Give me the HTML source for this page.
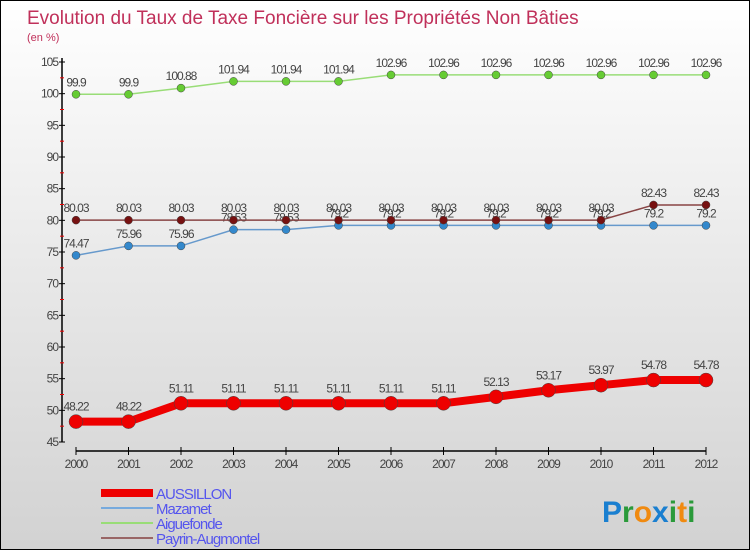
<!DOCTYPE html>
<html><head><meta charset="utf-8"><style>
body{margin:0}
#c{width:750px;height:550px;position:relative;box-sizing:border-box;border:1px solid #000;background:linear-gradient(#fff 0%,#e8e8e8 50%,#d2d2d2 100%);font-family:"Liberation Sans",sans-serif;overflow:hidden}
text{font-family:"Liberation Sans",sans-serif}
</style></head><body>
<div id="c">
<svg id="s" width="750" height="550">
<text x="26" y="23" font-size="19" fill="#c0305a">Evolution du Taux de Taxe Foncière sur les Propriétés Non Bâties</text>
<text x="26" y="40" font-size="11" fill="#c0305a">(en %)</text>
<g id="g"></g>
<text x="601" y="521" font-size="30" font-weight="bold"><tspan fill="#1a7fd0">P</tspan><tspan fill="#2a9a3a">r</tspan><tspan fill="#f08a10">o</tspan><tspan fill="#1a7fd0">x</tspan><tspan fill="#2a9a3a">i</tspan><tspan fill="#f08a10">t</tspan><tspan fill="#2a9a3a">i</tspan></text>
</svg></div>
<script>
const years=[2000,2001,2002,2003,2004,2005,2006,2007,2008,2009,2010,2011,2012];
const yTicks=[45,50,55,60,65,70,75,80,85,90,95,100,105];
const aussillon=[48.22,48.22,51.11,51.11,51.11,51.11,51.11,51.11,52.13,53.17,53.97,54.78,54.78];
const mazamet=[74.47,75.96,75.96,78.53,78.53,79.2,79.2,79.2,79.2,79.2,79.2,79.2,79.2];
const aiguefonde=[99.9,99.9,100.88,101.94,101.94,101.94,102.96,102.96,102.96,102.96,102.96,102.96,102.96];
const payrin=[80.03,80.03,80.03,80.03,80.03,80.03,80.03,80.03,80.03,80.03,80.03,82.43,82.43];
const seriesNames=["AUSSILLON","Mazamet","Aiguefonde","Payrin-Augmontel"];
const NS="http://www.w3.org/2000/svg",g=document.getElementById('g');
const xS=i=>75+i*52.5, yS=v=>441-(v-45)*380/60;
function el(t,a,p){const e=document.createElementNS(NS,t);for(const k in a)e.setAttribute(k,a[k]);(p||g).appendChild(e);return e;}
let ax=el('line',{x1:61,y1:57,x2:61,y2:441,stroke:'#000','stroke-width':1.5});


let bx=el('line',{x1:75,y1:450,x2:705,y2:450,stroke:'#000','stroke-width':1.5});


yTicks.forEach((v,i)=>{const y=yS(v);
el('line',{x1:58,y1:y,x2:64,y2:y,stroke:'#000'});
if(i<yTicks.length-1)el('line',{x1:59,y1:yS(v+2.5),x2:63,y2:yS(v+2.5),stroke:'#e00'});
const t=el('text',{x:57,y:y+4,'font-size':12,'text-anchor':'end',fill:'#444','letter-spacing':'-1'});t.textContent=v;

});
years.forEach((yr,i)=>{const x=xS(i);el('line',{x1:x,y1:446,x2:x,y2:454,stroke:'#000'});
const t=el('text',{x:x,y:467,'font-size':12,'text-anchor':'middle',fill:'#444','letter-spacing':'-1'});t.textContent=yr;

});
function series(d,col,dot,w,r,name,lblOff){
const p=el('polyline',{points:d.map((v,i)=>xS(i)+','+yS(v)).join(' '),fill:'none',stroke:col,'stroke-width':w});


d.forEach((v,i)=>{const c=el('circle',{cx:xS(i),cy:yS(v),r:r,fill:dot,stroke:'#444','stroke-width':0.5});


const t=el('text',{x:xS(i),y:yS(v)-lblOff,'font-size':12,'text-anchor':'middle',fill:'#444','letter-spacing':'-1'});
t.textContent=String(v).replace('.',',').replace(',','.');

});}
series(aiguefonde,'#99dd77','#66cc33',1.5,4,'aiguefonde',8);
series(mazamet,'#6699cc','#3388cc',1.5,4,'mazamet',8);
series(payrin,'#884444','#771111',1.5,4,'payrin-augmontel',8);
series(aussillon,'#ee0000','#ee0000',8,7,'aussillon',11);
const lc=['#ee0000','#77aadd','#99dd77','#996666'],lw=[8,2,2,2];
seriesNames.forEach((n,i)=>{const y=492+i*15;
const l=el('line',{x1:100,y1:y,x2:152,y2:y,stroke:lc[i],'stroke-width':lw[i]});


const t=el('text',{x:155,y:y+6,'font-size':15,fill:'#5555ee','letter-spacing':'-1'});t.textContent=n;

});
</script></body></html>
